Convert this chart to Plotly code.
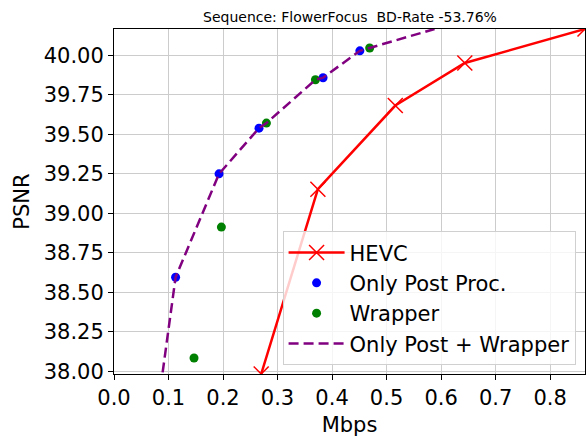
import plotly.graph_objects as go

hevc_rate = [0.270, 0.374, 0.516, 0.6435, 0.864]
hevc_psnr = [37.984, 39.153, 39.682, 39.951, 40.166]

post_rate = [0.113, 0.1927, 0.266, 0.3835, 0.451]
post_psnr = [38.596, 39.250, 39.539, 39.858, 40.028]

wrap_rate = [0.1468, 0.197, 0.2796, 0.3695, 0.469]
wrap_psnr = [38.085, 38.913, 39.571, 39.845, 40.046]

comb_rate = [0.0855, 0.113, 0.1927, 0.266, 0.2796, 0.3695, 0.3835, 0.451, 0.469, 0.588]
comb_psnr = [37.900, 38.596, 39.250, 39.539, 39.571, 39.845, 39.858, 40.028, 40.046, 40.166]

x_ticks = [0.0, 0.1, 0.2, 0.3, 0.4, 0.5, 0.6, 0.7, 0.8]
y_ticks = [38.00, 38.25, 38.50, 38.75, 39.00, 39.25, 39.50, 39.75, 40.00]

FONT = "DejaVu Sans"

fig = go.Figure()
fig.add_trace(go.Scatter(x=hevc_rate, y=hevc_psnr, mode="lines+markers", name="HEVC",
                         line=dict(color="red", width=2.5),
                         marker=dict(symbol="x-thin", size=15, line=dict(color="red", width=1.5))))
fig.add_trace(go.Scatter(x=post_rate, y=post_psnr, mode="markers", name="Only Post Proc.",
                         marker=dict(color="blue", size=9)))
fig.add_trace(go.Scatter(x=wrap_rate, y=wrap_psnr, mode="markers", name="Wrapper",
                         marker=dict(color="green", size=9)))
fig.add_trace(go.Scatter(x=comb_rate, y=comb_psnr, mode="lines", name="Only Post + Wrapper",
                         line=dict(color="purple", width=2.5, dash="10px,5px")))

axis_common = dict(showgrid=True, gridcolor="#cccccc", gridwidth=1, zeroline=False,
                   showline=True, linecolor="black", linewidth=1, mirror=True,
                   ticks="outside", ticklen=5, tickcolor="black", automargin=False,
                   tickfont=dict(family=FONT, size=21, color="black"))

fig.update_layout(
    width=586, height=438,
    margin=dict(l=114, r=1, t=29, b=64, autoexpand=False),
    paper_bgcolor="white", plot_bgcolor="white",
    font=dict(family=FONT, color="black"),
    title=dict(text="Sequence: FlowerFocus  BD-Rate -53.76%", x=350 / 586, xanchor="center",
               y=1 - 16.7 / 438, yanchor="middle", font=dict(family=FONT, size=14, color="black")),
    showlegend=True,
    legend=dict(x=0.980, y=0.025, xanchor="right", yanchor="bottom", itemwidth=56,
                bgcolor="rgba(255,255,255,0.8)", bordercolor="#d0d0d0", borderwidth=1,
                font=dict(family=FONT, size=21, color="black"), tracegroupgap=0),
)
fig.update_xaxes(range=[0, max(hevc_rate)], tickvals=x_ticks, tickformat=".1f",
                 title=dict(text="Mbps", font=dict(family=FONT, size=21), standoff=8), **axis_common)
fig.update_yaxes(range=[min(hevc_psnr), max(hevc_psnr)], tickvals=y_ticks, tickformat=".2f",
                 title=dict(text="PSNR", font=dict(family=FONT, size=21), standoff=8), **axis_common)

fig.write_html("out.html", config={"displayModeBar": False},
               post_script="document.body.style.margin='0';document.body.style.overflow='hidden';")
